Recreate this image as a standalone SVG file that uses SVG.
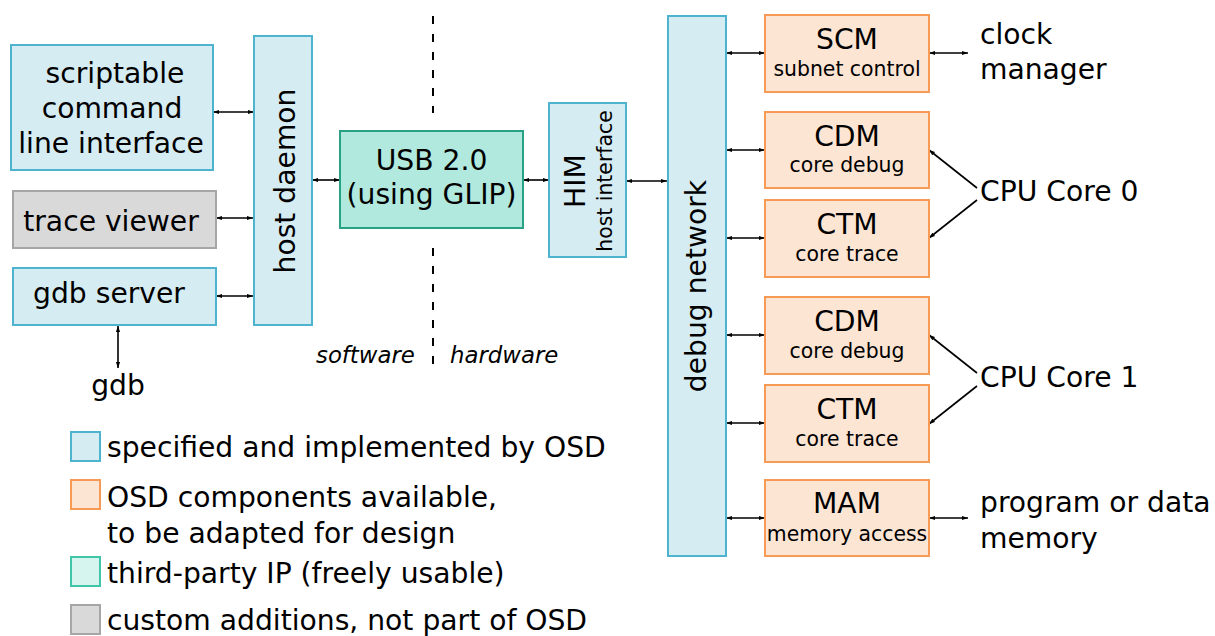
<svg xmlns="http://www.w3.org/2000/svg" width="1215" height="636" viewBox="0 0 1215 636">
<defs>
<marker id="ah" viewBox="0 0 6 6" refX="6" refY="3" markerWidth="6" markerHeight="6" orient="auto-start-reverse" markerUnits="userSpaceOnUse"><path d="M0,0.9 L6,3 L0,5.1 z" fill="#000"/></marker>
<style>
text{font-family:"DejaVu Sans","Liberation Sans",sans-serif;fill:#000}
.t28{font-size:28.2px}
.t20{font-size:20.4px}
.it{font-size:22.8px;font-style:italic}
.mid{text-anchor:middle}
.blue{fill:#d6ecf3;stroke:#4eb3cf;stroke-width:2}
.orange{fill:#fde5d4;stroke:#f79a55;stroke-width:2}
.teal{fill:#b1e9de;stroke:#2aa084;stroke-width:2}
.teall{fill:#d6f5ee;stroke:#3fc6a9;stroke-width:2}
.gray{fill:#d9d9da;stroke:#a6a6a6;stroke-width:2}
.c{stroke:#000;stroke-width:1.6;fill:none}
.d{marker-start:url(#ah);marker-end:url(#ah)}
.s{marker-end:url(#ah)}
.dash{stroke:#000;stroke-width:2;stroke-dasharray:8 10;fill:none}
</style>
</defs>
<rect width="1215" height="636" fill="#fff"/>

<g id="connectors">
<path class="c d" d="M213,112 H254"/>
<path class="c d" d="M216,218 H253"/>
<path class="c d" d="M216,296 H253"/>
<path class="c d" d="M118,326 V368"/>
<path class="c d" d="M312,180 H340"/>
<path class="c d" d="M523,180 H549"/>
<path class="c d" d="M626,181 H667"/>
<path class="c d" d="M726,53 H765"/>
<path class="c d" d="M929,53 H968"/>
<path class="c d" d="M726,150 H765"/>
<path class="c d" d="M726,238 H765"/>
<path class="c d" d="M726,335 H765"/>
<path class="c d" d="M726,423 H765"/>
<path class="c d" d="M726,518 H765"/>
<path class="c d" d="M929,518 H968"/>
<path class="c s" d="M977,188 L929,150"/>
<path class="c s" d="M977,200 L929,238"/>
<path class="c s" d="M977,373 L929,335"/>
<path class="c s" d="M977,386 L929,424"/>
<path class="dash" d="M433,16 V113"/>
<path class="dash" d="M433,248 V365"/>
</g>

<g id="cli">
<rect class="blue" x="11" y="45" width="202" height="125"/>
<text class="t28 mid" x="115" y="83">scriptable</text>
<text class="t28 mid" x="112" y="118">command</text>
<text class="t28 mid" x="111" y="153">line interface</text>
</g>
<g id="trace-viewer">
<rect class="gray" x="13" y="191" width="203" height="57"/>
<text class="t28 mid" x="111" y="231">trace viewer</text>
</g>
<g id="gdb-server">
<rect class="blue" x="13" y="268" width="203" height="57"/>
<text class="t28 mid" x="109" y="303">gdb server</text>
</g>
<g id="gdb">
<text class="t28 mid" x="118" y="395">gdb</text>
</g>
<g id="host-daemon">
<rect class="blue" x="254" y="36" width="58" height="289"/>
<text class="t28 mid" transform="translate(295,181) rotate(-90)">host daemon</text>
</g>
<g id="usb">
<rect class="teal" x="340" y="131" width="183" height="97"/>
<text class="t28 mid" x="431.5" y="170">USB 2.0</text>
<text class="t28 mid" x="431.5" y="204">(using GLIP)</text>
</g>
<g id="him">
<rect class="blue" x="549" y="103" width="77" height="154"/>
<text class="t28 mid" transform="translate(585,181) rotate(-90)">HIM</text>
<text class="t20 mid" transform="translate(612,181) rotate(-90)">host interface</text>
</g>
<g id="labels-sw-hw">
<text class="it" x="316" y="363">software</text>
<text class="it" x="450" y="363">hardware</text>
</g>
<g id="debug-network">
<rect class="blue" x="668" y="16" width="58" height="540"/>
<text class="t28 mid" transform="translate(706,286) rotate(-90)">debug network</text>
</g>
<g id="scm">
<rect class="orange" x="765" y="15" width="164" height="77"/>
<text class="t28 mid" x="847" y="49">SCM</text>
<text class="t20 mid" x="847" y="76">subnet control</text>
</g>
<g id="cdm0">
<rect class="orange" x="765" y="112" width="164" height="76"/>
<text class="t28 mid" x="847" y="146">CDM</text>
<text class="t20 mid" x="847" y="172">core debug</text>
</g>
<g id="ctm0">
<rect class="orange" x="765" y="200" width="164" height="77"/>
<text class="t28 mid" x="847" y="234">CTM</text>
<text class="t20 mid" x="847" y="261">core trace</text>
</g>
<g id="cdm1">
<rect class="orange" x="765" y="297" width="164" height="77"/>
<text class="t28 mid" x="847" y="331">CDM</text>
<text class="t20 mid" x="847" y="358">core debug</text>
</g>
<g id="ctm1">
<rect class="orange" x="765" y="385" width="164" height="77"/>
<text class="t28 mid" x="847" y="419">CTM</text>
<text class="t20 mid" x="847" y="446">core trace</text>
</g>
<g id="mam">
<rect class="orange" x="765" y="480" width="164" height="76"/>
<text class="t28 mid" x="847" y="513">MAM</text>
<text class="t20 mid" x="847" y="541">memory access</text>
</g>
<g id="clock-manager">
<text class="t28" x="980" y="44">clock</text>
<text class="t28" x="980" y="79">manager</text>
</g>
<g id="cpu0"><text class="t28" x="980" y="201">CPU Core 0</text></g>
<g id="cpu1"><text class="t28" x="980" y="387">CPU Core 1</text></g>
<g id="memory">
<text class="t28" x="980" y="512">program or data</text>
<text class="t28" x="980" y="548">memory</text>
</g>

<g id="legend">
<rect class="blue" x="71" y="432" width="29" height="29"/>
<text class="t28" x="107" y="457">specified and implemented by OSD</text>
<rect class="orange" x="71" y="480" width="29" height="29"/>
<text class="t28" x="107" y="507">OSD components available,</text>
<text class="t28" x="107" y="543">to be adapted for design</text>
<rect class="teall" x="71" y="557" width="29" height="29"/>
<text class="t28" x="107" y="583">third-party IP (freely usable)</text>
<rect class="gray" x="71" y="605" width="29" height="29"/>
<text class="t28" x="107" y="630">custom additions, not part of OSD</text>
</g>
</svg>
